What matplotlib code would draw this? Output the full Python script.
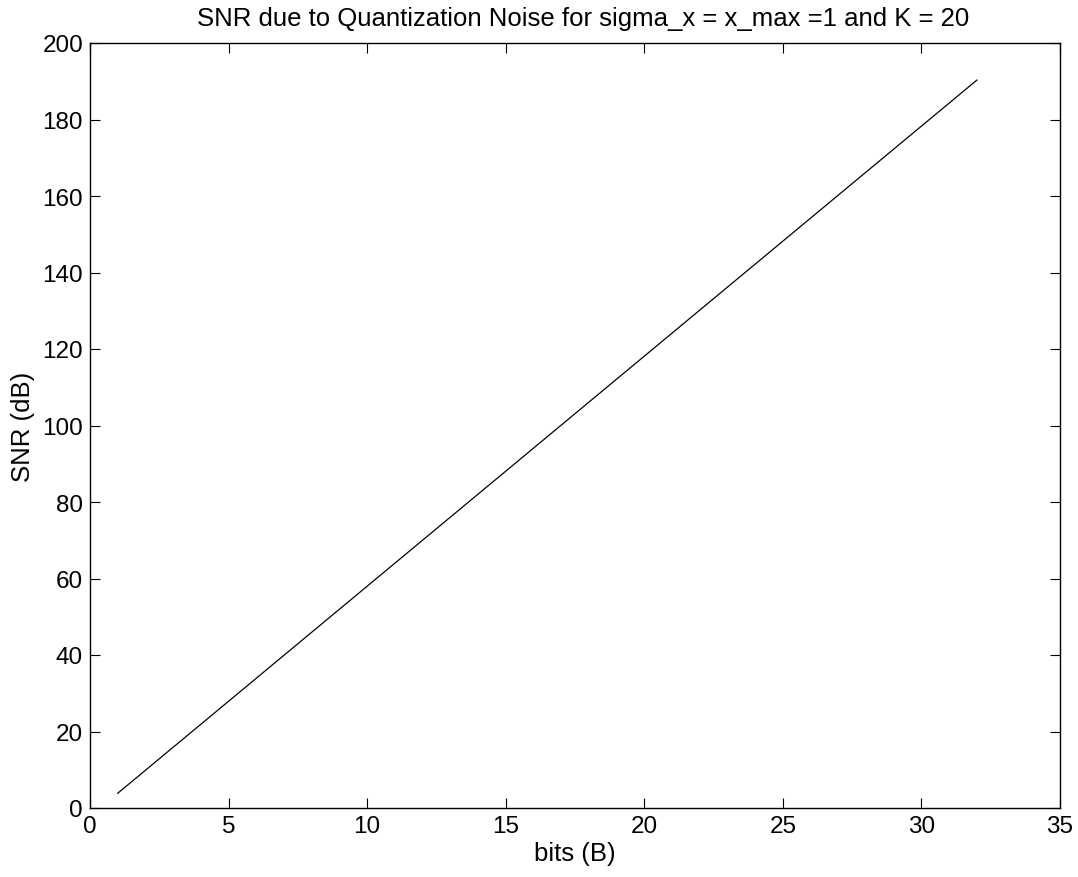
import matplotlib
matplotlib.use("Agg")
import matplotlib.pyplot as plt

# values
bits = [1, 32]
snr_db = [3.85, 190.3]

x_ticks = [0, 5, 10, 15, 20, 25, 30, 35]
y_ticks = [0, 20, 40, 60, 80, 100, 120, 140, 160, 180, 200]

plt.rcParams["font.family"] = ["Liberation Sans", "DejaVu Sans"]
plt.rcParams["font.size"] = 17.5

fig = plt.figure(figsize=(10.78, 8.78), dpi=100)
ax = fig.add_axes([90 / 1078, 1 - 809 / 878, 970 / 1078, 765 / 878])
ax.plot(bits, snr_db, color="black", lw=0.9)
ax.set_xlim(0, 35)
ax.set_ylim(0, 200)
ax.set_xticks(x_ticks)
ax.set_yticks(y_ticks)
ax.tick_params(direction="in", top=True, right=True, length=7, width=0.8, pad=5)
for s in ax.spines.values():
    s.set_linewidth(1.0)
ax.set_xlabel("bits (B)", fontsize=18.5, labelpad=3)
ax.set_ylabel("SNR (dB)", fontsize=18.5, labelpad=5)
ax.set_title("SNR due to Quantization Noise for sigma_x = x_max =1 and K = 20",
             fontsize=18.5, pad=13, x=0.508)

fig.savefig("out.png", dpi=100)
